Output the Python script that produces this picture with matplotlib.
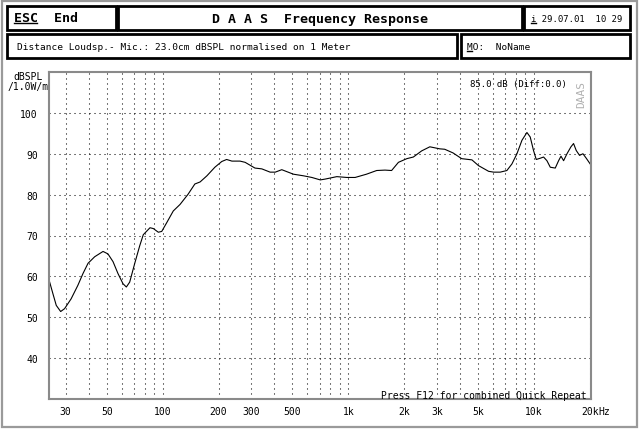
import matplotlib
matplotlib.use("Agg")
import matplotlib.pyplot as plt
from matplotlib.lines import Line2D
from matplotlib.patches import Rectangle

freq_hz = [24.6, 25.6, 26.7, 28.2, 29.6, 32.1, 34.9, 37.2, 39.6, 43.0,
           47.7, 50.7, 54.0, 57.4, 61.1, 63.7, 66.4, 70.7, 75.2, 78.6,
           85.4, 89.0, 94.7, 98.8, 105, 114, 124, 137, 149, 159,
           173, 191, 208, 221, 236, 261, 278, 314, 342, 379,
           404, 438, 506, 574, 636, 706, 750, 867, 981, 1088,
           1253, 1422, 1576, 1711, 1862, 2066, 2241, 2484, 2749, 3109,
           3307, 3667, 4080, 4635, 5027, 5701, 6070, 6580, 7150, 7610,
           8100, 8620, 9170, 9550, 9950, 10290, 10810, 11270, 11750, 12250,
           13030, 13580, 13990, 14450, 15070, 15830, 16350, 16900, 17610, 18370,
           19140, 20100]
spl_db = [58.6, 55.8, 52.9, 51.4, 52.1, 54.5, 57.8, 60.7, 63.2, 64.8,
          66.1, 65.5, 63.6, 60.7, 58.2, 57.4, 58.6, 63.2, 67.5, 70.2,
          71.9, 71.7, 70.8, 71.0, 73.1, 76.0, 77.6, 80.1, 82.6, 83.1,
          84.6, 86.7, 88.1, 88.6, 88.2, 88.2, 87.9, 86.5, 86.3, 85.5,
          85.5, 86.1, 85.0, 84.6, 84.2, 83.6, 83.8, 84.4, 84.2, 84.2,
          85.0, 85.9, 86.0, 85.9, 87.9, 88.8, 89.2, 90.7, 91.7, 91.2,
          91.1, 90.2, 88.8, 88.5, 87.1, 85.7, 85.5, 85.5, 85.9, 87.5,
          90.0, 93.3, 95.2, 94.1, 90.8, 88.6, 88.9, 89.2, 88.3, 86.7,
          86.5, 88.3, 89.4, 88.3, 90.0, 91.7, 92.5, 90.8, 89.6, 90.0,
          88.9, 87.5]

x_grid = [30, 40, 50, 60, 70, 80, 90,
          100, 200, 300, 400, 500, 600, 700, 800, 900,
          1000, 2000, 3000, 4000, 5000, 6000, 7000, 8000, 9000,
          10000, 20000]
x_labels = {30: "30", 50: "50", 100: "100", 200: "200", 300: "300",
            500: "500", 1000: "1k", 2000: "2k", 3000: "3k", 5000: "5k",
            10000: "10k", 20000: "20k"}
y_ticks = [40, 50, 60, 70, 80, 90, 100]

W, H = 640, 431
MONO = "DejaVu Sans Mono"
plt.rcParams['font.family'] = MONO

fig = plt.figure(figsize=(W / 100, H / 100), dpi=100)
fig.patch.set_facecolor("white")


def fx(x):
    return x / W


def fy(y):
    return 1 - y / H


def box(x0, y0, x1, y1, lw=2.0, color="black"):
    fig.add_artist(Rectangle((fx(x0), fy(y1)), fx(x1) - fx(x0), fy(y0) - fy(y1),
                             transform=fig.transFigure, fill=False,
                             lw=lw, ec=color))


def uline(x0, x1, y):
    fig.add_artist(Line2D([fx(x0), fx(x1)], [fy(y), fy(y)],
                          transform=fig.transFigure, lw=1, color="black"))


# outer halftone frame
box(2, 2, 637, 428, lw=1.6, color="#9a9a9a")

# header boxes
box(7, 7, 116, 31)
box(118, 7, 522, 31)
box(524, 7, 630, 31)
box(7, 35, 457, 59)
box(461, 35, 630, 59)

fig.text(fx(14), fy(19), "ESC  End", fontsize=9.5, fontweight="bold", va="center")
uline(14, 37, 24)
fig.text(fx(320), fy(19), "D A A S  Frequency Response", fontsize=9.5,
         fontweight="bold", va="center", ha="center")
fig.text(fx(531), fy(19), "i 29.07.01  10 29", fontsize=6.4, va="center")
uline(531, 536, 24)
fig.text(fx(17), fy(47), "Distance Loudsp.- Mic.: 23.0cm dBSPL normalised on 1 Meter",
         fontsize=6.8, va="center")
fig.text(fx(467), fy(47), "MO:  NoName", fontsize=6.8, va="center")
uline(467, 472, 52)

# plot area
ax = fig.add_axes([fx(49), fy(400), fx(591) - fx(49), fy(73) - fy(400)])
ax.plot(freq_hz, spl_db, color="black", lw=0.8)
ax.set_xscale("log")
ax.set_xlim(24.4, 20300)
ax.set_ylim(30, 110)

ax.set_xticks(x_grid)
ax.set_xticklabels([x_labels.get(f, "") for f in x_grid])
ax.xaxis.set_minor_locator(plt.NullLocator())
ax.set_yticks(y_ticks)
ax.set_yticklabels([str(v) for v in y_ticks])
ax.tick_params(length=0, labelsize=7)
ax.tick_params(axis="x", pad=5)
ax.tick_params(axis="y", pad=8)
ax.grid(True, color="black", lw=0.75, linestyle=(0, (1, 3.8)))
for s in ax.spines.values():
    s.set_color("#8a8a8a")
    s.set_linewidth(1.5)

ax.annotate("Hz", xy=(20000, 0), xycoords=("data", "axes fraction"),
            xytext=(6, -5), textcoords="offset points", fontsize=7,
            va="top", ha="left")

fig.text(fx(28), fy(77), "dBSPL", fontsize=7, ha="center", va="center")
fig.text(fx(28), fy(87), "/1.0W/m", fontsize=7, ha="center", va="center")
fig.text(fx(567), fy(85), "85.0 dB (Diff:0.0)", fontsize=6.5, ha="right", va="center")
fig.text(fx(581), fy(94), "DAAS", fontsize=8, rotation=90, color="#b0b0b0",
         ha="center", va="center")
fig.text(fx(587), fy(396), "Press F12 for combined Quick Repeat", fontsize=7,
         ha="right", va="center")

fig.savefig("out.png", dpi=100)
